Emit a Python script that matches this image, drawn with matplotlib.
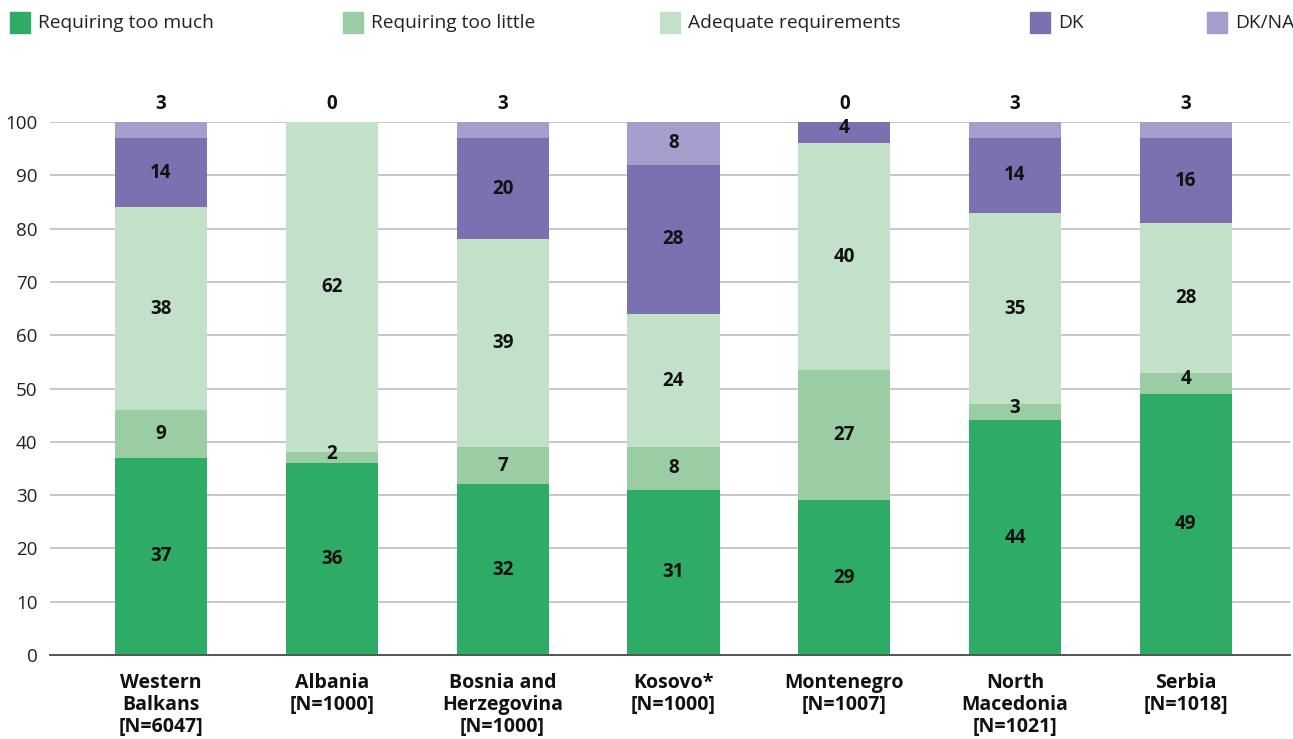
import matplotlib
matplotlib.use("Agg")
import matplotlib.pyplot as plt
from matplotlib.patches import Rectangle

plt.rcParams['font.family'] = ['Open Sans', 'DejaVu Sans']

categories = ["Western\nBalkans\n[N=6047]", "Albania\n[N=1000]", "Bosnia and\nHerzegovina\n[N=1000]",
              "Kosovo*\n[N=1000]", "Montenegro\n[N=1007]", "North\nMacedonia\n[N=1021]", "Serbia\n[N=1018]"]
series_names = ["Requiring too much", "Requiring too little", "Adequate requirements", "DK", "DK/NA"]
colors = ["#2EAC66", "#9ACDA3", "#C2E1C8", "#7B70B0", "#A79DCD"]

# bar heights as drawn
too_much   = [37, 36, 32, 31, 29, 44, 49]
too_little = [9, 2, 7, 8, 24.5, 3, 4]
adequate   = [38, 62, 39, 25, 42.5, 36, 28]
dk         = [13, 0, 19, 28, 4, 14, 16]
dkna       = [3, 0, 3, 8, 0, 3, 3]

# value labels as printed
lbl_too_much   = [37, 36, 32, 31, 29, 44, 49]
lbl_too_little = [9, 2, 7, 8, 27, 3, 4]
lbl_adequate   = [38, 62, 39, 24, 40, 35, 28]
lbl_dk         = [14, None, 20, 28, 4, 14, 16]
lbl_dkna       = [3, 0, 3, 8, 0, 3, 3]
dkna_inside    = [False, False, False, True, False, False, False]

fig = plt.figure(figsize=(12.93, 7.39), dpi=100)
ax = fig.add_axes([50/1293, (739-655)/739, 1240/1293, (655-122)/739])

x = list(range(len(categories)))
heights = [too_much, too_little, adequate, dk, dkna]
labels = [lbl_too_much, lbl_too_little, lbl_adequate, lbl_dk, lbl_dkna]
bottom = [0]*len(x)
width = 0.54
for si, (h, c) in enumerate(zip(heights, colors)):
    ax.bar(x, h, width, bottom=bottom, color=c, zorder=3)
    for i in x:
        lab = labels[si][i]
        if lab is None:
            continue
        if si == 4 and not dkna_inside[i]:
            ax.text(i, 101.5, str(lab), ha='center', va='bottom', fontsize=13.5,
                    fontweight='bold', color='#111111', clip_on=False)
        elif h[i] > 0:
            yc = bottom[i] + h[i]/2
            if h[i] < 6:
                yc = bottom[i] + h[i]/2 + 0.8
            ax.text(i, yc, str(lab), ha='center', va='center', fontsize=13.5,
                    fontweight='bold', color='#111111', zorder=4)
    bottom = [b + v for b, v in zip(bottom, h)]

ax.set_xlim(-0.65, 6.61)
ax.set_ylim(0, 100)
ax.set_yticks(range(0, 101, 10))
ax.yaxis.grid(True, color='#BDBDBD', linewidth=1.2, zorder=0)
ax.set_axisbelow(True)
for s in ['top', 'right', 'left']:
    ax.spines[s].set_visible(False)
ax.spines['bottom'].set_color('#555555')
ax.spines['bottom'].set_linewidth(1.4)
ax.spines['bottom'].set_zorder(5)
ax.tick_params(axis='y', length=0, pad=9, labelsize=13.5, labelcolor='#222222')
ax.tick_params(axis='x', length=0, pad=13)
ax.set_xticks(x)
ax.set_xticklabels(categories, fontsize=14, fontweight='bold', linespacing=1.12, color='#111111')

# legend
leg_x = [10, 343, 660, 1030, 1207]
for lx, name, c in zip(leg_x, series_names, colors):
    fig.patches.append(Rectangle((lx/1293, (739-33)/739), 20/1293, 21/739,
                                 transform=fig.transFigure, color=c, figure=fig))
    fig.text((lx+28)/1293, (739-23.5)/739, name, ha='left', va='center', fontsize=13.8, color='#222222')

fig.savefig("out.png", dpi=100)
